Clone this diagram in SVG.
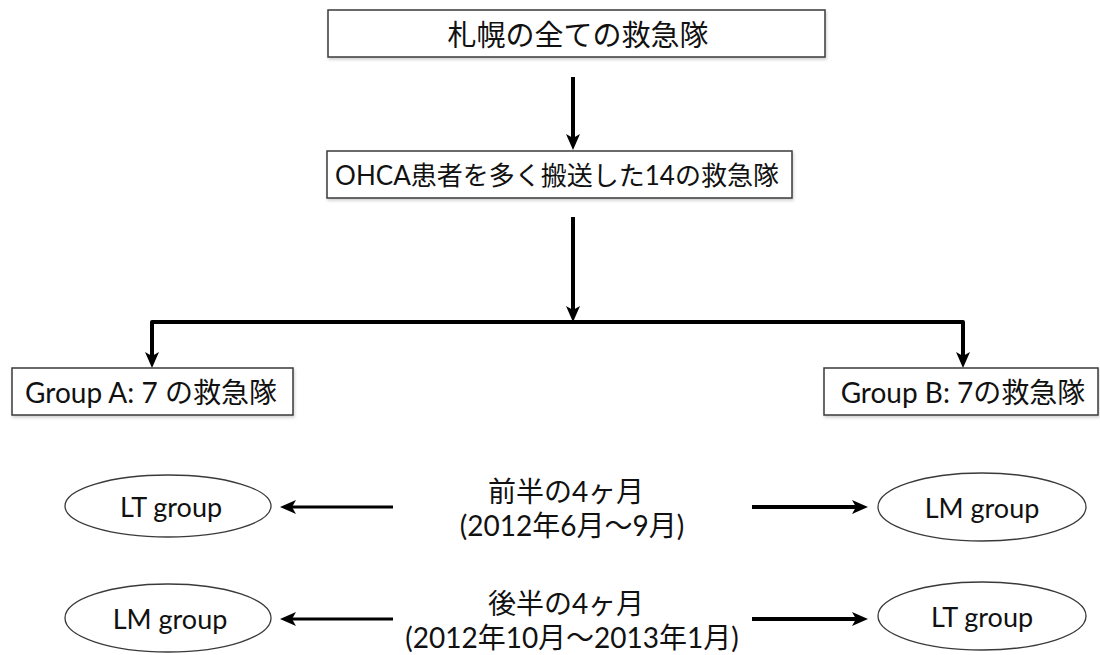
<svg xmlns="http://www.w3.org/2000/svg" width="1100" height="655" viewBox="0 0 1100 655">
<style>
.box{fill:#fff;stroke:#3a3a3a;stroke-width:1.5}
.ell{fill:#fff;stroke:#3a3a3a;stroke-width:1.3}
.t{font-family:Lato,"Noto Sans CJK JP",sans-serif;font-size:27px;fill:#111;text-anchor:middle;dominant-baseline:central}
.m{font-size:28px}
.g{font-size:28px}
.c{fill:none;stroke:#000;stroke-width:4;stroke-linejoin:round}
.thin{stroke-width:3}
</style>
<defs>
<filter id="sh" x="-5%" y="-20%" width="110%" height="150%">
<feDropShadow dx="1" dy="2" stdDeviation="1.5" flood-color="#000" flood-opacity="0.18"/>
</filter>
<marker id="ah" viewBox="0 0 16 14" refX="6" refY="7" markerWidth="16" markerHeight="14" markerUnits="userSpaceOnUse" orient="auto">
<path d="M0,0 L16,7 L0,14 L4,7 Z" fill="#000"/>
</marker>
</defs>
<g id="connectors">
<line class="c" x1="573" y1="77" x2="573" y2="140" marker-end="url(#ah)"/>
<line class="c" x1="573" y1="217" x2="573" y2="312" marker-end="url(#ah)"/>
<path class="c" d="M152,358 V322 H963 V358"/>
<line class="c" x1="152" y1="330" x2="152" y2="358" marker-end="url(#ah)"/>
<line class="c" x1="963" y1="330" x2="963" y2="358" marker-end="url(#ah)"/>
<line class="c thin" x1="393" y1="507" x2="290" y2="507" marker-end="url(#ah)"/>
<line class="c" x1="752" y1="507" x2="858" y2="507" marker-end="url(#ah)"/>
<line class="c thin" x1="393" y1="619" x2="290" y2="619" marker-end="url(#ah)"/>
<line class="c" x1="752" y1="619" x2="858" y2="619" marker-end="url(#ah)"/>
</g>
<g id="n_all" filter="url(#sh)">
<rect class="box" x="328" y="10" width="497" height="47"/>
</g>
<text class="t" x="578" y="34" style="font-size:29px">札幌の全ての救急隊</text>
<g id="n_14" filter="url(#sh)">
<rect class="box" x="327" y="151" width="465" height="47"/>
</g>
<text class="t" x="557" y="175" style="font-size:26px">OHCA患者を多く搬送した14の救急隊</text>
<g id="n_groupA" filter="url(#sh)">
<rect class="box" x="12" y="368" width="281" height="47"/>
</g>
<text class="t g" x="151" y="392">Group A: 7 の救急隊</text>
<g id="n_groupB" filter="url(#sh)">
<rect class="box" x="824" y="368" width="274" height="47"/>
</g>
<text class="t g" x="963" y="392">Group B: 7の救急隊</text>
<g id="n_period1">
<text class="t m" x="566" y="491">前半の4ヶ月</text>
<text class="t m" x="572" y="525">(2012年6月～9月)</text>
</g>
<g id="n_period2">
<text class="t m" x="566" y="603">後半の4ヶ月</text>
<text class="t m" x="572" y="637">(2012年10月～2013年1月)</text>
</g>
<g id="n_lt1">
<ellipse class="ell" cx="168" cy="506" rx="103" ry="31"/>
<text class="t" x="171" y="506">LT group</text>
</g>
<g id="n_lm1">
<ellipse class="ell" cx="982" cy="507" rx="104" ry="34"/>
<text class="t" x="982" y="507">LM group</text>
</g>
<g id="n_lm2">
<ellipse class="ell" cx="168" cy="618" rx="103" ry="34"/>
<text class="t" x="170" y="618">LM group</text>
</g>
<g id="n_lt2">
<ellipse class="ell" cx="982" cy="616" rx="104" ry="34"/>
<text class="t" x="982" y="616">LT group</text>
</g>
</svg>
